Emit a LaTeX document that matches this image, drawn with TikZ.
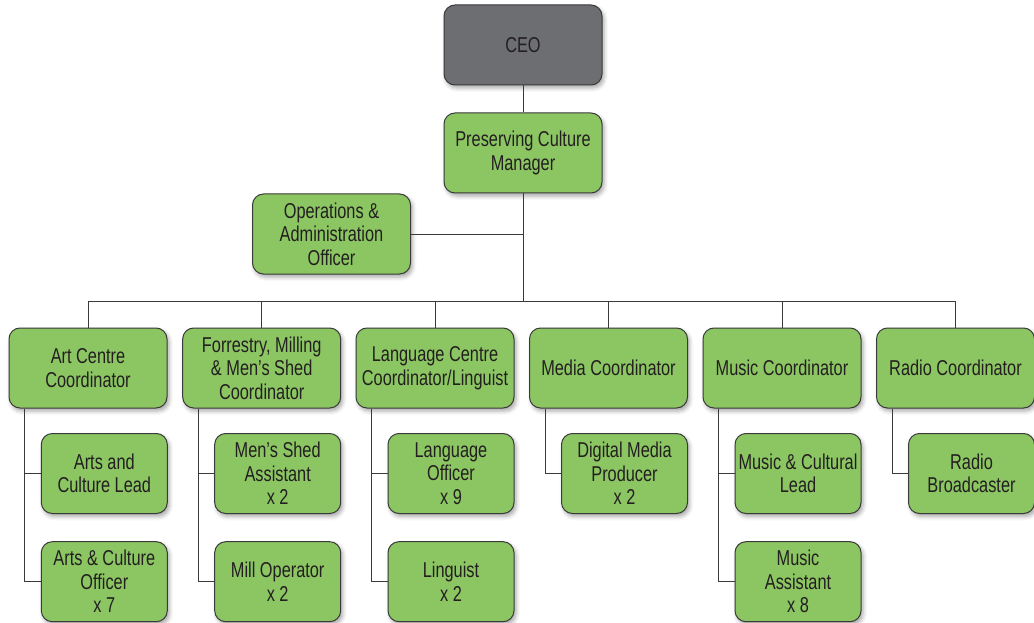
\documentclass[tikz,border=0pt]{standalone}
\usepackage{fontspec}
\setmainfont{Liberation Sans}[FakeStretch=0.76]
\usetikzlibrary{shadows.blur}
\definecolor{boxgreen}{HTML}{8CC663}
\definecolor{boxgrey}{HTML}{6D6E72}
\definecolor{edge}{HTML}{3A3A3A}
\definecolor{ink}{HTML}{231F20}

\begin{document}
\begin{tikzpicture}[x=1pt,y=-1pt,
  role/.style={draw=edge, line width=1pt, fill=boxgreen, rounded corners=11pt,
    minimum width=158pt, minimum height=80pt, align=center, text=ink, inner sep=2pt,
    font=\fontsize{21.5}{23.5}\selectfont,
    blur shadow={shadow xshift=2pt, shadow yshift=-3pt, shadow blur radius=4pt, shadow opacity=35}},
  sub/.style={role, minimum width=126pt},
  top/.style={role, fill=boxgrey},
  link/.style={draw=edge, line width=1pt}]

\useasboundingbox (0,0) rectangle (1034,623);

% senior staff
\node[top]  (ceo) at (523,45)   {CEO};
\node[role] (pcm) at (523,153)  {Preserving Culture\\Manager};
\node[role] (ops) at (331.5,234) {Operations \&\\Administration\\Officer};

% coordinators
\node[role] (art)   at (88,368)    {Art Centre\\Coordinator};
\node[role] (forr)  at (261.7,368) {Forrestry, Milling\\\& Men’s Shed\\Coordinator};
\node[role] (lang)  at (435,368)   {Language Centre\\Coordinator/Linguist};
\node[role] (media) at (608.5,368) {Media Coordinator};
\node[role] (music) at (782,368)   {Music Coordinator};
\node[role] (radio) at (955.5,368) {Radio Coordinator};

% staff under each coordinator
\node[sub] (art1)   at (104.3,473.5) {Arts and\\Culture Lead};
\node[sub] (art2)   at (104.3,581.7) {Arts \& Culture\\Officer\\x 7};
\node[sub] (forr1)  at (277.7,473.5) {Men’s Shed\\Assistant\\x 2};
\node[sub] (forr2)  at (277.7,581.7) {Mill Operator\\x 2};
\node[sub] (lang1)  at (451,473.5)   {Language\\Officer\\x 9};
\node[sub] (lang2)  at (451,581.7)   {Linguist\\x 2};
\node[sub] (media1) at (624.5,473.5) {Digital Media\\Producer\\x 2};
\node[sub] (music1) at (798,473.5)   {Music \& Cultural\\Lead};
\node[sub] (music2) at (798,581.7)   {Music\\Assistant\\x 8};
\node[sub] (radio1) at (971.5,473.5) {Radio\\Broadcaster};

% reporting lines
\coordinate (bus) at (523,301);
\draw[link] (ceo.south) -- (pcm.north);
\draw[link] (pcm.south) -- (bus);
\draw[link] (ops.east) -- (ops.east -| pcm.south);
\foreach \c in {art,forr,lang,media,music,radio}
  \draw[link] (bus) -| (\c.north);

\foreach \c/\s in {art/art1,art/art2,forr/forr1,forr/forr2,lang/lang1,lang/lang2,
                   media/media1,music/music1,music/music2,radio/radio1}
  \draw[link] ([xshift=16pt]\c.south west) |- (\s.west);
\end{tikzpicture}
\end{document}
